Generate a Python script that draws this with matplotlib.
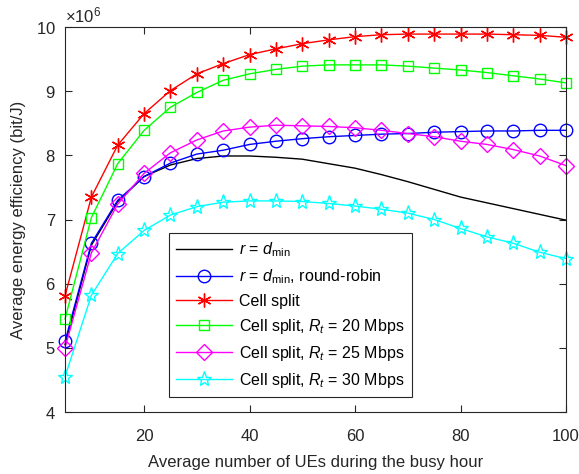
import matplotlib
matplotlib.use("Agg")
import matplotlib.pyplot as plt
from matplotlib.ticker import ScalarFormatter

plt.rcParams['font.family'] = ['Liberation Sans', 'DejaVu Sans']
plt.rcParams['mathtext.fontset'] = 'custom'
plt.rcParams['mathtext.rm'] = 'Liberation Sans'
plt.rcParams['mathtext.it'] = 'Liberation Sans:italic'
plt.rcParams['mathtext.bf'] = 'Liberation Sans:bold'

ues = list(range(5, 101, 5))

r_dmin = [5.05, 6.60, 7.28, 7.67, 7.85, 7.95, 7.99, 7.99, 7.97, 7.94, 7.87, 7.80,
          7.70, 7.59, 7.47, 7.35, 7.26, 7.17, 7.08, 6.99]
r_dmin_rr = [5.10, 6.63, 7.30, 7.67, 7.88, 8.02, 8.08, 8.17, 8.22, 8.26, 8.29, 8.31,
             8.33, 8.34, 8.36, 8.37, 8.38, 8.38, 8.39, 8.39]
cell_split = [5.81, 7.35, 8.16, 8.65, 9.01, 9.27, 9.43, 9.57, 9.66, 9.74, 9.80, 9.85,
              9.88, 9.89, 9.89, 9.89, 9.89, 9.88, 9.87, 9.84]
cs_20 = [5.45, 7.03, 7.87, 8.39, 8.75, 8.98, 9.17, 9.27, 9.34, 9.39, 9.41, 9.41,
         9.41, 9.39, 9.36, 9.33, 9.29, 9.24, 9.19, 9.13]
cs_25 = [5.00, 6.48, 7.24, 7.72, 8.04, 8.24, 8.38, 8.44, 8.47, 8.46, 8.45, 8.43,
         8.39, 8.34, 8.29, 8.22, 8.17, 8.09, 7.99, 7.84]
cs_30 = [4.55, 5.82, 6.47, 6.83, 7.07, 7.20, 7.27, 7.29, 7.29, 7.28, 7.25, 7.21,
         7.16, 7.10, 7.00, 6.86, 6.73, 6.63, 6.49, 6.39]

labels = [r'$r$ = $d_{\rm min}$',
          r'$r$ = $d_{\rm min}$, round-robin',
          'Cell split',
          r'Cell split, $R_t$ = 20 Mbps',
          r'Cell split, $R_t$ = 25 Mbps',
          r'Cell split, $R_t$ = 30 Mbps']

scale = 1e6
fig = plt.figure(figsize=(5.79, 4.74), dpi=100)
ax = fig.add_axes([0.1123, 0.1308, 0.8652, 0.8122])

lw = 1.0
common = dict(lw=lw, clip_on=False, mew=1.0)
ax.plot(ues, [v * scale for v in r_dmin], color='k', label=labels[0], **common)
ax.plot(ues, [v * scale for v in r_dmin_rr], color='#0000ff', marker='o', ms=9,
        mfc='none', label=labels[1], **common)
ax.plot(ues, [v * scale for v in cell_split], color='#ff0000', marker=(6, 2, 0), ms=10,
        label=labels[2], **common)
ax.plot(ues, [v * scale for v in cs_20], color='#00ff00', marker='s', ms=7.5,
        mfc='none', label=labels[3], **common)
ax.plot(ues, [v * scale for v in cs_25], color='#ff00ff', marker='D', ms=8,
        mfc='none', label=labels[4], **common)
ax.plot(ues, [v * scale for v in cs_30], color='#00ffff', marker='*', ms=11,
        mfc='none', label=labels[5], **common)

ax.set_xlim(5, 100)
ax.set_ylim(4e6, 10e6)
ax.set_xticks([20, 40, 60, 80, 100])
ax.set_yticks([4e6, 5e6, 6e6, 7e6, 8e6, 9e6, 10e6])
fmt = ScalarFormatter(useMathText=True)
fmt.set_powerlimits((6, 6))
ax.yaxis.set_major_formatter(fmt)
ax.tick_params(direction='in', top=True, right=True, labelsize=12, colors='#262626',
               length=5, width=0.8)
ax.tick_params(axis='x', pad=12)
ax.tick_params(axis='y', pad=6.5)
for sp in ax.spines.values():
    sp.set_color('#262626')
    sp.set_linewidth(0.8)
ax.yaxis.get_offset_text().set_fontsize(12)
ax.set_xlabel('Average number of UEs during the busy hour', fontsize=12, color='#262626',
              labelpad=8)
ax.set_ylabel('Average energy efficiency (bit/J)', fontsize=12, color='#262626',
              labelpad=7)

leg = ax.legend(loc='lower left', bbox_to_anchor=(0.207, 0.039), borderaxespad=0,
                fontsize=11.5, fancybox=False, framealpha=1, edgecolor='#262626',
                handlelength=3.5, labelspacing=0.5, borderpad=0.45, handletextpad=0.45)
leg.get_frame().set_linewidth(0.8)

fig.savefig('out.png', dpi=100)
